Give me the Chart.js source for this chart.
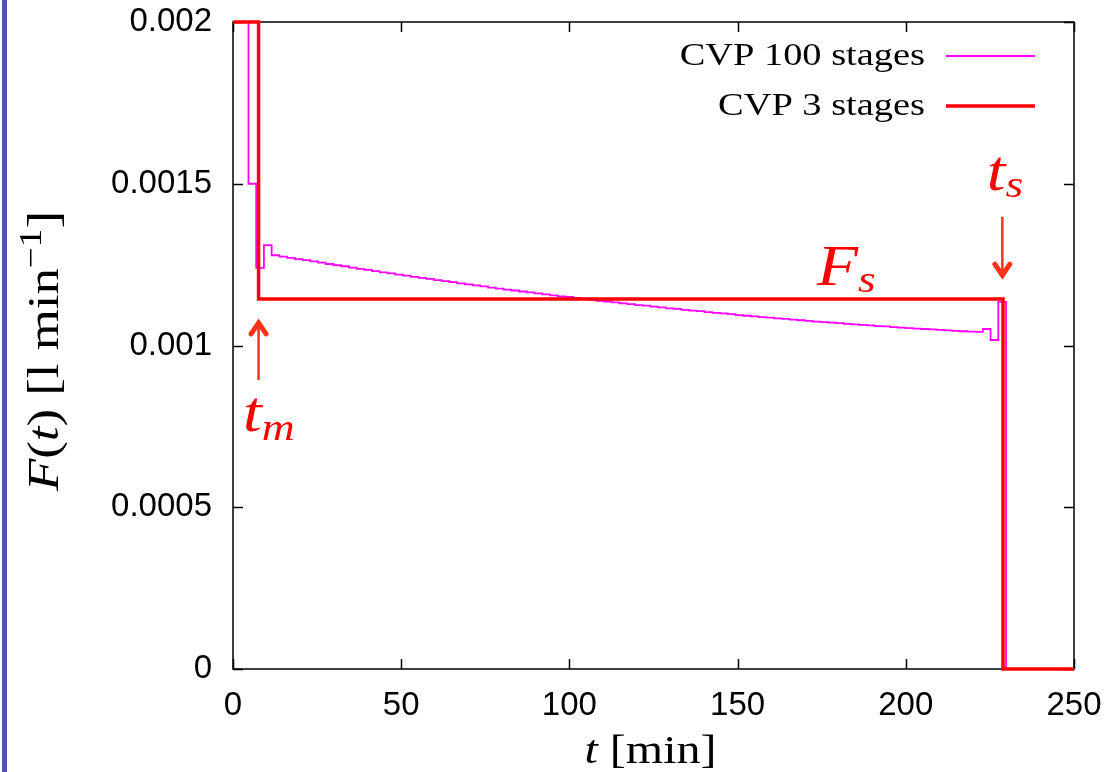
<!DOCTYPE html>
<html>
<head>
<meta charset="utf-8">
<title>CVP stages</title>
<script src="https://cdn.jsdelivr.net/npm/chart.js@4.4.0/dist/chart.umd.min.js"></script>
<style>
    html, body { margin: 0; padding: 0; background: #fff; }
    #wrap { position: relative; width: 1108px; height: 772px; overflow: hidden; }
    #bar { position: absolute; left: 2px; top: 0; width: 5px; height: 772px; background: #4b50b2; }
    #grafico { position: absolute; left: 0; top: 0; }
</style>
</head>
<body>
<div id="wrap">
    <div id="bar"></div>
    <canvas id="grafico" width="1108" height="772"></canvas>
</div>
<script>
// Axis ticks
const xTicks = [0, 50, 100, 150, 200, 250];
const yTicks = [0, 0.0005, 0.001, 0.0015, 0.002];

// CVP 100 stages: stage start times [min] (last one = end of the feed)
const cvp100Times = [
    0, 2.30, 4.60, 6.89, 9.19, 11.49, 13.79, 16.09, 18.38, 20.68,
    22.98, 25.28, 27.58, 29.87, 32.17, 34.47, 36.77, 39.07, 41.36, 43.66,
    45.96, 48.26, 50.56, 52.85, 55.15, 57.45, 59.75, 62.05, 64.34, 66.64,
    68.94, 71.24, 73.54, 75.83, 78.13, 80.43, 82.73, 85.03, 87.32, 89.62,
    91.92, 94.22, 96.52, 98.81, 101.11, 103.41, 105.71, 108.01, 110.30, 112.60,
    114.90, 117.20, 119.50, 121.79, 124.09, 126.39, 128.69, 130.99, 133.28, 135.58,
    137.88, 140.18, 142.48, 144.77, 147.07, 149.37, 151.67, 153.97, 156.26, 158.56,
    160.86, 163.16, 165.46, 167.75, 170.05, 172.35, 174.65, 176.95, 179.24, 181.54,
    183.84, 186.14, 188.44, 190.73, 193.03, 195.33, 197.63, 199.93, 202.22, 204.52,
    206.82, 209.12, 211.42, 213.71, 216.01, 218.31, 220.61, 222.91, 225.20, 227.50,
    229.80
];
// F(t) per stage [l/min] (last entry: after the end)
const cvp100Values = [
    0.002, 0.002, 0.0015, 0.00124, 0.00131,
    0.001279, 0.001275, 0.001271, 0.001267, 0.001264, 0.001260, 0.001256, 0.001252, 0.001248, 0.001245,
    0.001241, 0.001237, 0.001234, 0.001230, 0.001226, 0.001223, 0.001219, 0.001216, 0.001212, 0.001209,
    0.001206, 0.001202, 0.001199, 0.001196, 0.001192, 0.001189, 0.001186, 0.001183, 0.001179, 0.001176,
    0.001173, 0.001170, 0.001167, 0.001164, 0.001161, 0.001158, 0.001155, 0.001152, 0.001150, 0.001147,
    0.001144, 0.001141, 0.001138, 0.001136, 0.001133, 0.001130, 0.001128, 0.001125, 0.001123, 0.001120,
    0.001118, 0.001115, 0.001113, 0.001110, 0.001108, 0.001106, 0.001103, 0.001101, 0.001099, 0.001097,
    0.001094, 0.001092, 0.001090, 0.001088, 0.001086, 0.001084, 0.001082, 0.001080, 0.001078, 0.001076,
    0.001074, 0.001072, 0.001071, 0.001069, 0.001067, 0.001065, 0.001064, 0.001062, 0.001060, 0.001059,
    0.001057, 0.001055, 0.001054, 0.001052, 0.001051, 0.001050, 0.001048, 0.001047, 0.001045, 0.001044,
    0.001043, 0.001042,
    0.001051, 0.001017, 0.001135,
    0
];

// CVP 3 stages
const cvp3Times = [0, 7.6, 228.9];
const cvp3Values = [0.002, 0.001144, 0];

const seriesLabels = ['CVP 100 stages', 'CVP 3 stages'];

const X_MAX = 250;
const SERIF = "'Liberation Serif', 'Times New Roman', serif";
const STRETCH = 1.2;
const ARROW_COLOR = '#ff3319';

function toPoints(times, values) {
    const pts = times.map((t, i) => ({ x: t, y: values[i] }));
    pts.push({ x: X_MAX, y: values[values.length - 1] });
    return pts;
}

// Draws a row of text pieces (italic letters, sub/superscripts) one after another
function drawRuns(ctx, runs, x, y, align, angle) {
    ctx.save();
    ctx.translate(x, y);
    if (angle) ctx.rotate(angle);
    ctx.scale(STRETCH, 1);
    ctx.textAlign = 'left';
    ctx.textBaseline = 'alphabetic';
    const widths = runs.map(r => { ctx.font = r.font; return ctx.measureText(r.text).width; });
    const total = widths.reduce((a, b) => a + b, 0);
    let cx = align === 'center' ? -total / 2 : (align === 'right' ? -total : 0);
    runs.forEach((r, i) => {
        ctx.font = r.font;
        ctx.fillText(r.text, cx, r.dy || 0);
        cx += widths[i];
    });
    ctx.restore();
}

function drawArrow(ctx, x, yFrom, yTo) {
    const dir = yTo > yFrom ? 1 : -1;
    ctx.save();
    ctx.strokeStyle = ARROW_COLOR;
    ctx.lineWidth = 2.5;
    ctx.beginPath();
    ctx.moveTo(x, yFrom);
    ctx.lineTo(x, yTo - dir * 3);
    ctx.stroke();
    ctx.lineWidth = 5;
    ctx.lineCap = 'round';
    ctx.lineJoin = 'miter';
    ctx.beginPath();
    ctx.moveTo(x - 7.5, yTo - dir * 14);
    ctx.lineTo(x, yTo - dir * 3);
    ctx.lineTo(x + 7.5, yTo - dir * 14);
    ctx.stroke();
    ctx.restore();
}

// no label overhang padding: the layout padding alone places the plot box
function fixPadding(s) {
    s.paddingTop = 0;
    s.paddingBottom = 0;
    s.paddingLeft = 0;
    s.paddingRight = 0;
}

// Box, inward ticks, legend, axis titles and annotations
const marco = {
    id: 'marco',
    beforeDatasetsDraw(chart) {
        const { ctx, chartArea: a, scales: { x, y } } = chart;
        ctx.save();
        ctx.strokeStyle = '#000';
        ctx.lineWidth = 1.5;
        ctx.strokeRect(a.left, a.top, a.right - a.left, a.bottom - a.top);
        ctx.beginPath();
        xTicks.forEach(v => {
            const px = Math.round(x.getPixelForValue(v)) + 0.5;
            ctx.moveTo(px, a.bottom); ctx.lineTo(px, a.bottom - 10);
            ctx.moveTo(px, a.top); ctx.lineTo(px, a.top + 10);
        });
        yTicks.forEach(v => {
            const py = Math.round(y.getPixelForValue(v)) + 0.5;
            ctx.moveTo(a.left, py); ctx.lineTo(a.left + 10, py);
            ctx.moveTo(a.right, py); ctx.lineTo(a.right - 10, py);
        });
        ctx.stroke();
        ctx.restore();
    },
    afterDraw(chart) {
        const { ctx, chartArea: a, scales: { x, y } } = chart;
        ctx.save();

        // legend (top right, text right-aligned, sample on the right)
        [0, 1].forEach(i => {
            const ds = chart.data.datasets[i];
            const base = 65 + i * 50;
            ctx.fillStyle = '#000';
            drawRuns(ctx, [{ text: ds.label, font: '32px ' + SERIF }], 925, base, 'right');
            ctx.strokeStyle = ds.borderColor;
            ctx.lineWidth = ds.borderWidth;
            ctx.beginPath();
            ctx.moveTo(946, base - 9);
            ctx.lineTo(1035, base - 9);
            ctx.stroke();
        });

        // axis titles
        ctx.fillStyle = '#000';
        drawRuns(ctx, [
            { text: 't', font: 'italic 40px ' + SERIF },
            { text: ' [min]', font: '40px ' + SERIF }
        ], (a.left + a.right) / 2 - 3, 763, 'center');
        drawRuns(ctx, [
            { text: 'F', font: 'italic 44px ' + SERIF },
            { text: '(', font: '44px ' + SERIF },
            { text: 't', font: 'italic 44px ' + SERIF },
            { text: ') [l min', font: '44px ' + SERIF },
            { text: '\u22121', font: '31px ' + SERIF, dy: -17 },
            { text: ']', font: '44px ' + SERIF }
        ], 58, 351, 'center', -Math.PI / 2);

        // annotations
        ctx.fillStyle = '#ff0000';
        const big = 'italic 56px ' + SERIF;
        const sub = 'italic 38px ' + SERIF;
        drawRuns(ctx, [{ text: 't', font: big }, { text: 'm', font: sub, dy: 9 }],
            x.getPixelForValue(3.0), y.getPixelForValue(0.000736), 'left');
        drawRuns(ctx, [{ text: 't', font: big }, { text: 's', font: sub, dy: 7 }],
            x.getPixelForValue(224.1), y.getPixelForValue(0.001481), 'left');
        drawRuns(ctx, [{ text: 'F', font: big }, { text: 's', font: sub, dy: 7 }],
            x.getPixelForValue(173.6), y.getPixelForValue(0.001187), 'left');

        drawArrow(ctx, x.getPixelForValue(7.6), y.getPixelForValue(0.000893), y.getPixelForValue(0.001079));
        drawArrow(ctx, x.getPixelForValue(228.7), y.getPixelForValue(0.001398), y.getPixelForValue(0.001208));
        ctx.restore();
    }
};

Chart.defaults.font.family = "'Liberation Sans', Arial, sans-serif";
Chart.defaults.color = '#000';

const ctx = document.getElementById('grafico').getContext('2d');
const myChart = new Chart(ctx, {
    type: 'line',
    data: {
        datasets: [
            {
                label: seriesLabels[0],
                data: toPoints(cvp100Times, cvp100Values),
                borderColor: '#ff00ff',
                borderWidth: 1.8,
                stepped: 'before',
                pointRadius: 0,
                fill: false,
                clip: false,
                order: 1
            },
            {
                label: seriesLabels[1],
                data: toPoints(cvp3Times, cvp3Values),
                borderColor: '#ff0000',
                borderWidth: 3.5,
                stepped: 'before',
                pointRadius: 0,
                fill: false,
                clip: false,
                order: 0
            }
        ]
    },
    options: {
        responsive: false,
        animation: false,
        events: [],
        layout: { padding: { left: 0, top: 22, right: 34, bottom: 0 } },
        plugins: {
            legend: { display: false },
            title: { display: false },
            tooltip: { enabled: false }
        },
        scales: {
            x: {
                type: 'linear',
                min: 0,
                max: X_MAX,
                afterBuildTicks: (s) => { s.ticks = xTicks.map(v => ({ value: v })); },
                afterFit: (s) => { s.height = 103; fixPadding(s); },
                grid: { display: false, drawTicks: false },
                border: { display: false },
                ticks: { font: { size: 33 }, padding: 17, maxRotation: 0, callback: v => String(v) }
            },
            y: {
                type: 'linear',
                min: 0,
                max: 0.002,
                afterBuildTicks: (s) => { s.ticks = yTicks.map(v => ({ value: v })); },
                afterFit: (s) => { s.width = 233; fixPadding(s); },
                grid: { display: false, drawTicks: false },
                border: { display: false },
                ticks: { font: { size: 33 }, padding: 21, callback: v => String(+v.toFixed(4)) }
            }
        }
    },
    plugins: [marco]
});
</script>
</body>
</html>
